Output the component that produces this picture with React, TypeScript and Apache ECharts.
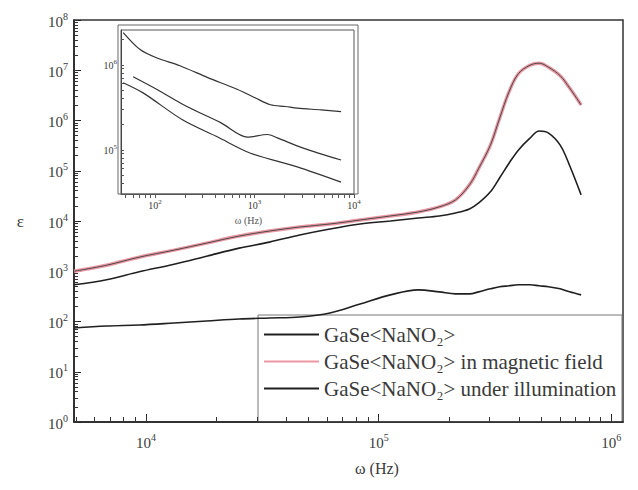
import { useEffect, useRef } from 'react';
import * as echarts from 'echarts';

// Main plot: log10 of frequency (Hz) and log10 of permittivity
const logFreq = [3.69, 3.83, 3.97, 4.12, 4.26, 4.40, 4.53, 4.66, 4.79, 4.92, 5.05, 5.17, 5.26, 5.33, 5.39, 5.43, 5.48, 5.52, 5.56, 5.60, 5.65, 5.69, 5.73, 5.78, 5.82, 5.87];
const logEpsPlain = [1.87, 1.91, 1.93, 1.97, 2.01, 2.05, 2.07, 2.09, 2.17, 2.35, 2.53, 2.63, 2.59, 2.55, 2.55, 2.59, 2.65, 2.69, 2.71, 2.73, 2.73, 2.71, 2.69, 2.65, 2.59, 2.53];
const logEpsMagnetic = [3.00, 3.12, 3.28, 3.42, 3.56, 3.70, 3.80, 3.88, 3.94, 4.02, 4.10, 4.18, 4.28, 4.42, 4.72, 5.05, 5.51, 6.05, 6.57, 6.93, 7.10, 7.14, 7.06, 6.89, 6.65, 6.31];
const logEpsIllum = [2.73, 2.83, 2.99, 3.14, 3.30, 3.46, 3.58, 3.72, 3.84, 3.94, 4.00, 4.06, 4.10, 4.16, 4.24, 4.36, 4.58, 4.86, 5.15, 5.41, 5.65, 5.79, 5.75, 5.51, 5.11, 4.52];

// Inset: log10 frequency / log10 permittivity
const insetFreqA = [1.68, 1.85, 2.02, 2.25, 2.53, 2.83, 3.01, 3.16, 3.31, 3.43, 3.67, 3.87];
const insetEpsA = [6.38, 6.18, 6.08, 5.99, 5.85, 5.71, 5.61, 5.53, 5.51, 5.49, 5.47, 5.45];
const insetFreqB = [1.78, 2.02, 2.32, 2.66, 2.93, 3.13, 3.23, 3.49, 3.87];
const insetEpsB = [5.86, 5.71, 5.51, 5.32, 5.15, 5.18, 5.14, 5.02, 4.88];
const insetFreqC = [1.68, 1.88, 2.28, 2.63, 2.96, 3.43, 3.87];
const insetEpsC = [5.79, 5.67, 5.35, 5.15, 4.96, 4.80, 4.62];

// Tick labels (exponents of 10)
const mainXLabels = [4, 5, 6];
const mainYLabels = [0, 1, 2, 3, 4, 5, 6, 7, 8];
const insetXLabels = [2, 3, 4];
const insetYLabels = [5, 6];

const seriesNames = [
  'GaSe<NaNO₂>',
  'GaSe<NaNO₂> in magnetic field',
  'GaSe<NaNO₂> under illumination',
];

const FONT = 'Liberation Serif';
const TXT = '#3a3a3a';

function minorTicks(lo: number, hi: number): number[] {
  const out: number[] = [];
  for (let n = Math.floor(lo); n <= Math.ceil(hi); n++) {
    for (let k = 1; k <= 9; k++) {
      const v = n + Math.log10(k);
      if (v >= lo - 1e-9 && v <= hi + 1e-9) out.push(v);
    }
  }
  return out;
}

function pairs(xs: number[], ys: number[]) {
  return xs.map((x, i) => [x, ys[i]]);
}

function richLabel(big: number, small: number, lh: number) {
  return {
    b: { fontSize: big, fontFamily: FONT, color: TXT, lineHeight: lh, verticalAlign: 'bottom' },
    s: { fontSize: small, fontFamily: FONT, color: TXT, lineHeight: small, verticalAlign: 'top' },
  };
}

export default function App() {
  const ref = useRef<HTMLDivElement>(null);
  useEffect(() => {
    if (!ref.current) return;
    const chart = echarts.init(ref.current, undefined, { renderer: 'svg' });
    const X0 = 3.69, X1 = 6.05, Y0 = 0, Y1 = 8;
    const IX0 = 1.658, IX1 = 4.0, IY0 = 4.48, IY1 = 6.41;
    const fmt = (v: number) => `{b|10}{s|${Math.round(v)}}`;
    const lineBlack = { color: '#202020', width: 1.6 };

    chart.setOption({
      animation: false,
      backgroundColor: '#ffffff',
      grid: [
        { left: 74, top: 20, width: 549, height: 402, show: true, borderColor: '#333', borderWidth: 1.5 },
        { left: 121, top: 30, width: 233, height: 164, show: true, borderColor: '#555', borderWidth: 1, backgroundColor: '#fff' },
      ],
      xAxis: [
        {
          type: 'value', gridIndex: 0, min: X0, max: X1, position: 'bottom',
          axisLine: { show: true, onZero: false, lineStyle: { color: '#222', width: 1.5 } },
          axisTick: { show: true, inside: true, length: 8, customValues: mainXLabels, lineStyle: { color: '#222' } },
          axisLabel: { customValues: mainXLabels, formatter: fmt, rich: richLabel(15, 10, 18), margin: 10 },
          splitLine: { show: false },
        },
        {
          type: 'value', gridIndex: 0, min: X0, max: X1, position: 'bottom',
          axisLine: { show: false },
          axisTick: { show: true, inside: true, length: 5, customValues: minorTicks(X0, X1), lineStyle: { color: '#333' } },
          axisLabel: { show: false },
          splitLine: { show: false },
        },
        {
          type: 'value', gridIndex: 1, min: IX0, max: IX1, position: 'bottom',
          name: 'ω (Hz)', nameLocation: 'middle', nameGap: 21,
          nameTextStyle: { fontFamily: FONT, fontSize: 10, color: '#555', padding: [0, 0, 0, 22] },
          axisLine: { show: true, onZero: false, lineStyle: { color: '#444', width: 1 } },
          axisTick: { show: true, inside: false, length: 4, customValues: minorTicks(IX0, IX1), lineStyle: { color: '#555' } },
          axisLabel: { customValues: insetXLabels, formatter: fmt, rich: richLabel(10, 7, 12), margin: 4 },
          splitLine: { show: false },
        },
      ],
      yAxis: [
        {
          type: 'value', gridIndex: 0, min: Y0, max: Y1, interval: 1, position: 'left',
          name: 'ε', nameLocation: 'middle', nameRotate: 0, nameGap: 50,
          nameTextStyle: { fontFamily: FONT, fontSize: 17, color: TXT },
          axisLine: { show: true, onZero: false, lineStyle: { color: '#222', width: 1.5 } },
          axisTick: { show: true, inside: true, length: 7, lineStyle: { color: '#222' } },
          axisLabel: { customValues: mainYLabels, formatter: fmt, rich: richLabel(15, 10, 18), margin: 6 },
          splitLine: { show: false },
        },
        {
          type: 'value', gridIndex: 0, min: Y0, max: Y1, position: 'left',
          axisLine: { show: false },
          axisTick: { show: true, inside: true, length: 4, customValues: minorTicks(Y0, Y1), lineStyle: { color: '#333' } },
          axisLabel: { show: false },
          splitLine: { show: false },
        },
        {
          type: 'value', gridIndex: 1, min: IY0, max: IY1, position: 'left',
          axisLine: { show: true, onZero: false, lineStyle: { color: '#444', width: 1 } },
          axisTick: { show: true, inside: true, length: 3, customValues: minorTicks(IY0, IY1), lineStyle: { color: '#555' } },
          axisLabel: { customValues: insetYLabels, formatter: fmt, rich: richLabel(10, 7, 12), margin: 4 },
          splitLine: { show: false },
        },
      ],
      legend: {
        orient: 'vertical',
        left: 263,
        top: 324,
        padding: 0,
        itemWidth: 55,
        itemHeight: 14,
        itemGap: 6,
        data: seriesNames,
        itemStyle: { opacity: 0 },
        textStyle: { fontFamily: FONT, fontSize: 21, color: TXT },
      },
      graphic: [
        { type: 'rect', shape: { x: 258, y: 315, width: 364, height: 107 }, style: { fill: '#fff', stroke: '#777', lineWidth: 1 }, z: 0, silent: true },
        { type: 'rect', shape: { x: 118, y: 25, width: 240, height: 169 }, style: { fill: 'none', stroke: '#666', lineWidth: 1 }, z: 5, silent: true },
        { type: 'text', x: 377, y: 468, style: { text: 'ω (Hz)', font: `16px "${FONT}"`, fill: TXT, align: 'center', verticalAlign: 'middle' }, z: 5 },
      ],
      series: [
        { name: seriesNames[0], type: 'line', xAxisIndex: 0, yAxisIndex: 0, data: pairs(logFreq, logEpsPlain), showSymbol: false, symbol: 'none', smooth: 0.35, lineStyle: lineBlack, itemStyle: { color: '#202020' }, z: 3 },
        { name: seriesNames[1], type: 'line', xAxisIndex: 0, yAxisIndex: 0, data: pairs(logFreq, logEpsMagnetic), showSymbol: false, symbol: 'none', smooth: 0.35, lineStyle: { color: '#ec98a4', width: 3.5 }, itemStyle: { color: '#ec98a4' }, z: 3 },
        { name: 'magnetic-core', type: 'line', xAxisIndex: 0, yAxisIndex: 0, data: pairs(logFreq, logEpsMagnetic), showSymbol: false, symbol: 'none', smooth: 0.35, lineStyle: { color: '#4a4a4a', width: 1 }, itemStyle: { color: '#4a4a4a' }, z: 4 },
        { name: seriesNames[2], type: 'line', xAxisIndex: 0, yAxisIndex: 0, data: pairs(logFreq, logEpsIllum), showSymbol: false, symbol: 'none', smooth: 0.35, lineStyle: lineBlack, itemStyle: { color: '#202020' }, z: 3 },
        { name: 'inset-a', type: 'line', xAxisIndex: 2, yAxisIndex: 2, data: pairs(insetFreqA, insetEpsA), showSymbol: false, symbol: 'none', smooth: 0.3, lineStyle: { color: '#333', width: 1.2 }, z: 6 },
        { name: 'inset-b', type: 'line', xAxisIndex: 2, yAxisIndex: 2, data: pairs(insetFreqB, insetEpsB), showSymbol: false, symbol: 'none', smooth: 0.3, lineStyle: { color: '#333', width: 1.2 }, z: 6 },
        { name: 'inset-c', type: 'line', xAxisIndex: 2, yAxisIndex: 2, data: pairs(insetFreqC, insetEpsC), showSymbol: false, symbol: 'none', smooth: 0.3, lineStyle: { color: '#333', width: 1.2 }, z: 6 },
      ],
    });
    return () => chart.dispose();
  }, []);
  return <div ref={ref} style={{ position: 'fixed', left: 0, top: 0, width: 638, height: 490, background: '#fff' }} />;
}
